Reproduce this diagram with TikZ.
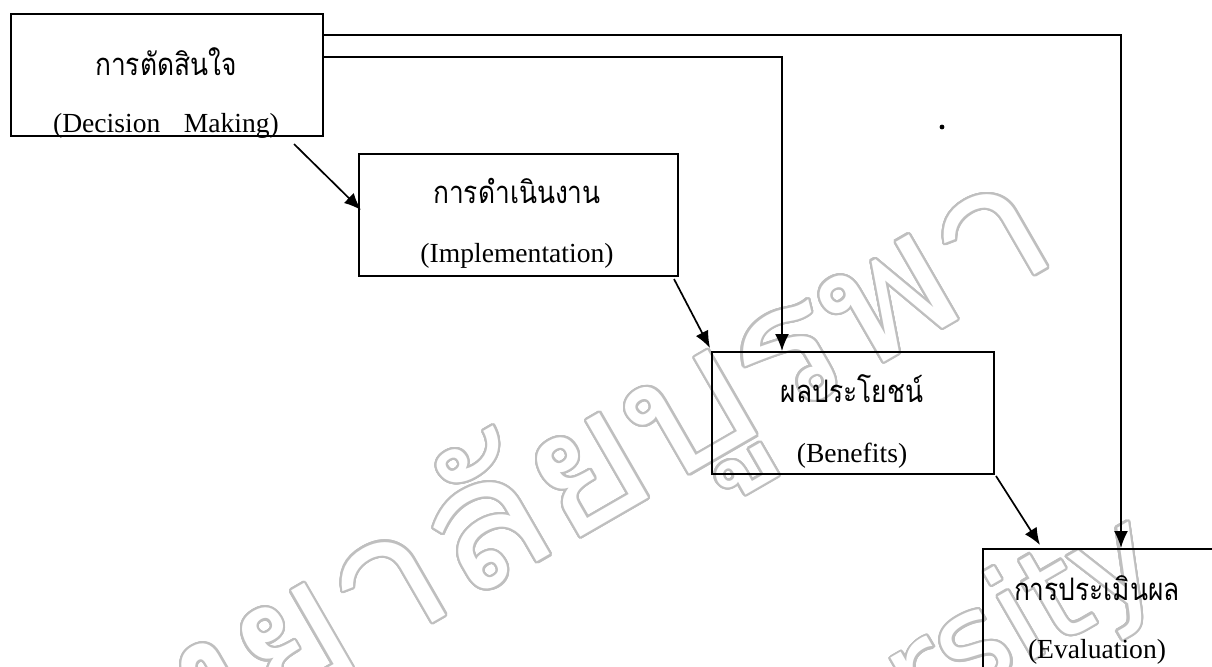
\documentclass[tikz,border=0pt]{standalone}
\usepackage{fontspec}
\setmainfont{Liberation Serif}
\newfontfamily\thaifont[Script=Thai,FakeStretch=0.85]{Loma}
\newfontfamily\thaiwm[Script=Thai,FakeStretch=1.1]{Loma}
\newfontfamily\wmsans{DejaVu Sans}
\usepackage{contour}
\contourlength{1.1pt}
\contournumber{32}
\usetikzlibrary{arrows.meta}
\begin{document}
\begin{tikzpicture}[x=0.5pt,y=-0.5pt,
  box/.style={draw, line width=1pt, inner sep=0pt, anchor=north west},
  th/.style={font=\thaifont\fontsize{15.5}{18}\selectfont, inner sep=0pt, anchor=base},
  en/.style={font=\fontsize{13.8}{16}\selectfont, inner sep=0pt, anchor=base},
  conn/.style={line width=0.85pt},
  arr/.style={conn, -{Latex[length=8.5pt,width=7pt]}},
  wm/.style={inner sep=0pt, rotate=30, anchor=base east}]
\useasboundingbox (0,0) rectangle (1212,666);
\clip (0,0) rectangle (1212,666);
% watermark
\node[wm, font=\thaiwm\fontsize{88}{88}\selectfont] (wm1) at (1064,258) {\contour{black!25}{\color{white}มหาวิทยาลัยบูรพา}};
\node[wm, font=\wmsans\fontsize{66}{66}\selectfont] (wm2) at (1168,582) {\contour{black!25}{\color{white}Burapha University}};
% boxes
\node[box, minimum width=156pt, minimum height=61pt] (A) at (10,13) {};
\node[box, minimum width=159.5pt, minimum height=61pt] (B) at (358,153) {};
\node[box, minimum width=141pt, minimum height=61pt] (C) at (711,351) {};
\node[box, minimum width=120pt, minimum height=75pt] (D) at (982,548) {};
% texts
\node[th] (At) at (166,75) {การตัดสินใจ};
\node[en] (Ae) at (166,132) {(Decision\hspace{0.85em}Making)};
\node[th] (Bt) at (517,203) {การดำเนินงาน};
\node[en] (Be) at (517,262) {(Implementation)};
\node[th] (Ct) at (852,402) {ผลประโยชน์};
\node[en] (Ce) at (852,462) {(Benefits)};
\node[th] (Dt) at (1097,600) {การประเมินผล};
\node[en] (De) at (1097,658) {(Evaluation)};
% connectors
\draw[arr] ([shift={(0,22)}]A.north east) -| ([shift={(139,0)}]D.north west);
\draw[arr] ([shift={(0,44)}]A.north east) -| ([shift={(71,0)}]C.north west);
\draw[arr] ([shift={(-30,7)}]A.south east) -- ([shift={(3,57)}]B.north west);
\draw[arr] ([shift={(-5,2)}]B.south east) -- ([shift={(-1,-3)}]C.north west);
\draw[arr] ([shift={(1,1)}]C.south east) -- ([shift={(58,-3)}]D.north west);
\fill (942,127) circle (1.2pt);
\end{tikzpicture}
\end{document}
